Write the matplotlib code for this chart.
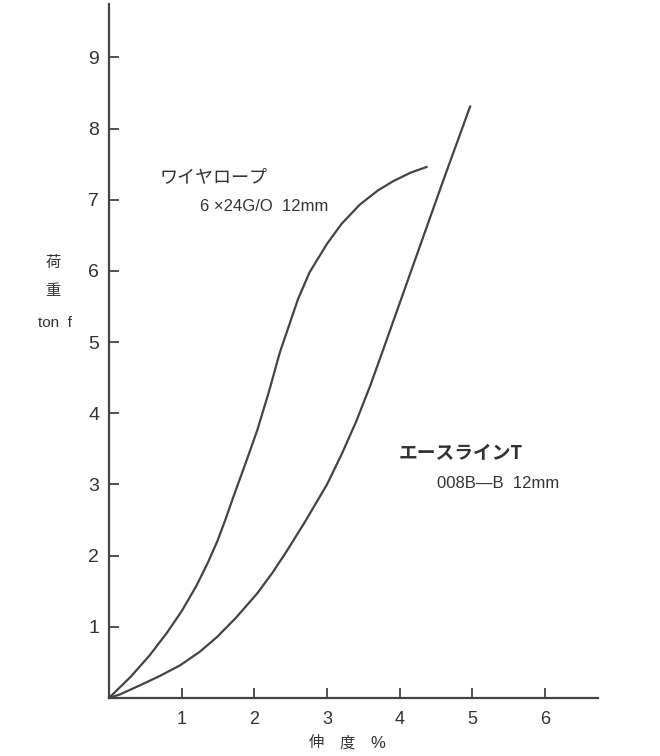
import matplotlib.pyplot as plt

# 荷重-伸度 curves
wire_x = [0, 0.3, 0.56, 0.8, 1.0, 1.2, 1.36, 1.49, 1.6, 1.71, 1.88, 2.04, 2.2, 2.35, 2.45,
          2.6, 2.76, 3.0, 3.2, 3.45, 3.7, 3.91, 4.15, 4.37]
wire_y = [0, 0.3, 0.6, 0.92, 1.22, 1.57, 1.9, 2.2, 2.5, 2.82, 3.3, 3.76, 4.3, 4.85, 5.15,
          5.6, 5.98, 6.38, 6.66, 6.93, 7.13, 7.26, 7.38, 7.46]

ace_x = [0, 0.15, 0.43, 0.7, 0.98, 1.25, 1.49, 1.75, 2.04, 2.25, 2.45, 2.7, 3.0, 3.2,
         3.4, 3.6, 3.8, 4.2, 4.6, 4.97]
ace_y = [0, 0.05, 0.18, 0.31, 0.46, 0.65, 0.86, 1.13, 1.47, 1.76, 2.07, 2.48, 3.0, 3.42,
         3.88, 4.4, 4.97, 6.12, 7.27, 8.31]

x_ticks = [1, 2, 3, 4, 5, 6]
y_ticks = [1, 2, 3, 4, 5, 6, 7, 8, 9]

jp = ['Noto Sans CJK JP', 'DejaVu Sans']
num = 'Liberation Sans'
ink = '#444444'
txt = '#333333'

fig = plt.figure(figsize=(6.6, 7.56), dpi=100)
ax = fig.add_axes([109 / 660, 1 - 698 / 756, 489 / 660, 694 / 756])

ax.plot(wire_x, wire_y, color=ink, lw=1.6, solid_joinstyle='round')
ax.plot(ace_x, ace_y, color=ink, lw=1.6, solid_joinstyle='round')

ax.set_xlim(0, 6.73)
ax.set_ylim(0, 9.75)
for s in ['top', 'right']:
    ax.spines[s].set_visible(False)
for s in ['left', 'bottom']:
    ax.spines[s].set_color(ink)
    ax.spines[s].set_linewidth(1.6)

ax.set_xticks(x_ticks)
ax.set_yticks(y_ticks)
ax.set_xticklabels([str(v) for v in x_ticks], fontfamily=num, fontsize=13, color=txt)
ax.set_yticklabels([str(v) for v in y_ticks], fontfamily=num, fontsize=14, color=txt)
ax.tick_params(axis='both', direction='in', length=7, width=1.3, color=ink)
ax.tick_params(axis='x', pad=9)
ax.tick_params(axis='y', pad=7)

# curve labels
ax.text(0.70, 7.32, 'ワイヤロープ', family=jp, fontsize=13, color=txt, va='center')
ax.text(1.25, 6.9, '6 ×24G/O  12mm', fontfamily=num, fontsize=12, color=txt, va='center')
ax.text(3.99, 3.43, 'エースラインT', family=jp, fontsize=13.5, fontweight='bold', color=txt, va='center')
ax.text(4.51, 3.02, '008B―B  12mm', family=[num, 'Noto Sans CJK JP'], fontsize=12, color=txt, va='center')

# axis titles
fig.text(53 / 660, 1 - 262 / 756, '荷', family=jp, fontsize=11, color=txt, ha='center', va='center')
fig.text(53 / 660, 1 - 290 / 756, '重', family=jp, fontsize=11, color=txt, ha='center', va='center')
fig.text(55 / 660, 1 - 323 / 756, 'ton  f', fontfamily=num, fontsize=11, color=txt, ha='center', va='center')
fig.text(316 / 660, 1 - 743 / 756, '伸', family=jp, fontsize=11, color=txt, ha='center', va='center')
fig.text(347 / 660, 1 - 743 / 756, '度', family=jp, fontsize=11, color=txt, ha='center', va='center')
fig.text(378 / 660, 1 - 743 / 756, '%', fontfamily=num, fontsize=12, color=txt, ha='center', va='center')

fig.savefig('out.png', dpi=100)
